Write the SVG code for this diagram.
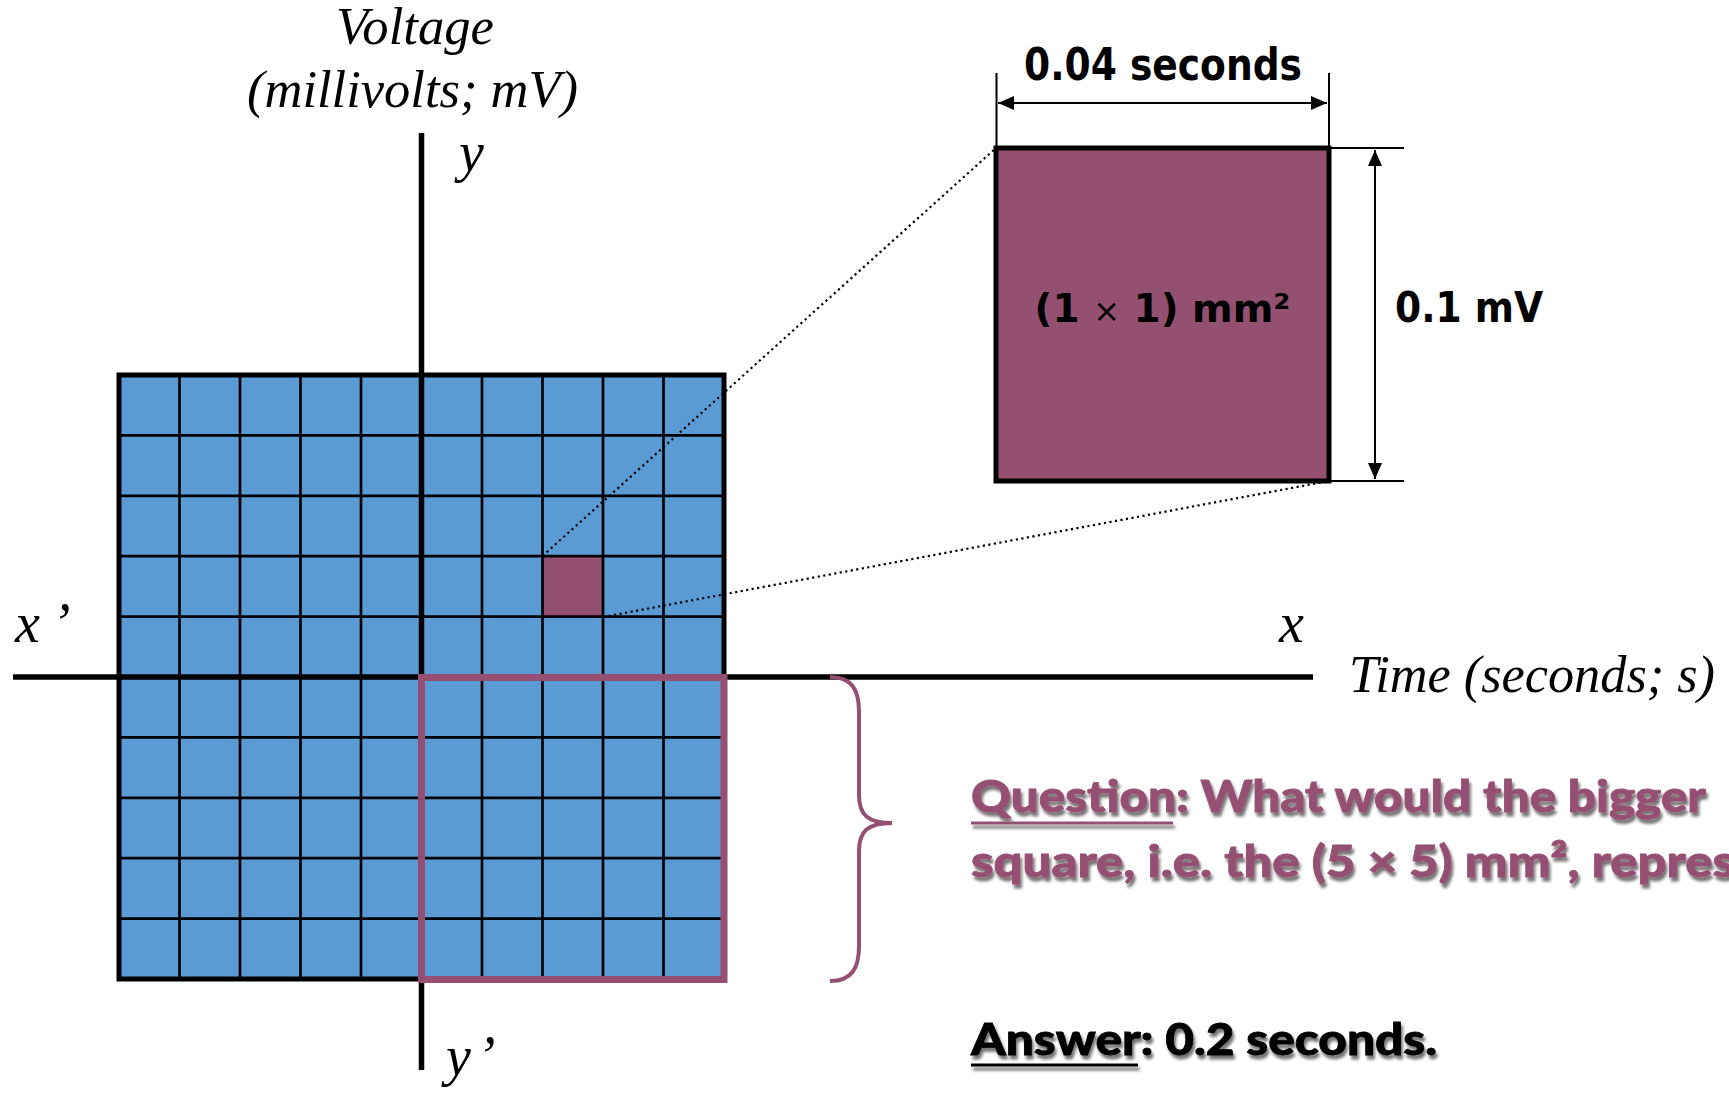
<svg xmlns="http://www.w3.org/2000/svg" width="1729" height="1102" viewBox="0 0 1729 1102">
<style>
.cell{fill:#5B9BD5}
.gl{stroke:#000;stroke-width:2.7}
.axis{stroke:#000;stroke-width:5.5}
.it{font-family:"Liberation Serif","Times New Roman",serif;font-style:italic;fill:#000}
.bd{font-family:"DejaVu Sans",Verdana,sans-serif;font-weight:bold;fill:#000}
.cal{font-family:Lato,"Open Sans",sans-serif;font-weight:900}
.dot{stroke:#000;stroke-width:2.2;stroke-dasharray:2.2 3.4;fill:none}
.dim{stroke:#000;stroke-width:2}
</style>
<defs>
<marker id="ah" viewBox="0 0 16 14" refX="16" refY="7" markerWidth="16" markerHeight="14" markerUnits="userSpaceOnUse" orient="auto-start-reverse">
<path d="M0 0 L16 7 L0 14 Z" fill="#000"/>
</marker>
<filter id="sh" x="-5%" y="-20%" width="110%" height="160%">
<feDropShadow dx="2" dy="4" stdDeviation="1.4" flood-color="#000" flood-opacity="0.55"/>
</filter>
</defs>
<rect width="1729" height="1102" fill="#fff"/>

<g id="grid">
<rect class="cell" x="119" y="375" width="605" height="604"/>
<rect x="542.5" y="556.2" width="60.5" height="60.4" fill="#945071"/>
<g class="gl">
<line x1="179.5" y1="375" x2="179.5" y2="979"/>
<line x1="240" y1="375" x2="240" y2="979"/>
<line x1="300.5" y1="375" x2="300.5" y2="979"/>
<line x1="361" y1="375" x2="361" y2="979"/>
<line x1="482" y1="375" x2="482" y2="979"/>
<line x1="542.5" y1="375" x2="542.5" y2="979"/>
<line x1="603" y1="375" x2="603" y2="979"/>
<line x1="663.5" y1="375" x2="663.5" y2="979"/>
<line x1="119" y1="435.4" x2="724" y2="435.4"/>
<line x1="119" y1="495.8" x2="724" y2="495.8"/>
<line x1="119" y1="556.2" x2="724" y2="556.2"/>
<line x1="119" y1="616.6" x2="724" y2="616.6"/>
<line x1="119" y1="737.4" x2="724" y2="737.4"/>
<line x1="119" y1="797.8" x2="724" y2="797.8"/>
<line x1="119" y1="858.2" x2="724" y2="858.2"/>
<line x1="119" y1="918.6" x2="724" y2="918.6"/>
</g>
<rect x="119" y="375" width="605" height="604" fill="none" stroke="#000" stroke-width="5"/>
</g>

<g id="axes">
<line class="axis" x1="421.5" y1="133" x2="421.5" y2="1070"/>
<line class="axis" x1="13" y1="677" x2="1313" y2="677"/>
</g>

<g id="highlight">
<rect x="421.5" y="677.5" width="302.5" height="302" fill="none" stroke="#954F72" stroke-width="7"/>
</g>

<g id="connectors">
<line class="dot" x1="542.5" y1="556" x2="996" y2="148"/>
<line class="dot" x1="603" y1="617" x2="1329" y2="481"/>
<line class="dim" x1="996.5" y1="73" x2="996.5" y2="148"/>
<line class="dim" x1="1329" y1="73" x2="1329" y2="148"/>
<line class="dim" x1="998" y1="103" x2="1327" y2="103" marker-start="url(#ah)" marker-end="url(#ah)"/>
<line class="dim" x1="1329" y1="148" x2="1404" y2="148"/>
<line class="dim" x1="1329" y1="481" x2="1404" y2="481"/>
<line class="dim" x1="1375" y1="150" x2="1375" y2="479" marker-start="url(#ah)" marker-end="url(#ah)"/>
<path d="M830 677 C852 677 859 690 859 712 L859 795 C859 815 868 823 892 823 C868 823 859 831 859 851 L859 946 C859 968 852 981 830 981" fill="none" stroke="#954F72" stroke-width="4"/>
</g>

<g id="zoombox">
<rect x="996" y="148" width="333" height="333" fill="#945071" stroke="#000" stroke-width="5"/>
<text class="bd" x="1162.5" y="322" font-size="39" text-anchor="middle">(1 <tspan font-weight="normal" font-size="32">×</tspan> 1) mm²</text>
</g>

<g id="labels">
<text class="bd" x="1024" y="80" font-size="44" textLength="278" lengthAdjust="spacingAndGlyphs">0.04 seconds</text>
<text class="bd" x="1395" y="322" font-size="42" textLength="148" lengthAdjust="spacingAndGlyphs">0.1 mV</text>
<text class="it" x="336" y="44" font-size="52" textLength="158" lengthAdjust="spacingAndGlyphs">Voltage</text>
<text class="it" x="247" y="107" font-size="52" textLength="331" lengthAdjust="spacingAndGlyphs">(millivolts; mV)</text>
<text class="it" x="459" y="171" font-size="56">y</text>
<text class="it" x="15" y="642" font-size="56">x<tspan dx="12">’</tspan></text>
<text class="it" x="1279" y="642" font-size="56">x</text>
<text class="it" x="1349" y="692" font-size="52" textLength="366" lengthAdjust="spacingAndGlyphs">Time (seconds; s)</text>
<text class="it" x="446" y="1075" font-size="56">y<tspan dx="6">’</tspan></text>
</g>

<g id="question" filter="url(#sh)">
<text class="cal" x="971" y="812" font-size="44" fill="#954F72" stroke="#954F72" stroke-width="0.8" textLength="735" lengthAdjust="spacingAndGlyphs">Question: What would the bigger</text>
<line x1="971" y1="823" x2="1173" y2="823" stroke="#954F72" stroke-width="3.2"/>
<text class="cal" x="971" y="877" font-size="44" fill="#954F72" stroke="#954F72" stroke-width="0.8" textLength="764" lengthAdjust="spacingAndGlyphs">square, i.e. the (5 × 5) mm², repres</text>
</g>

<g id="answer" filter="url(#sh)">
<text class="cal" x="971" y="1055" font-size="44" fill="#000" stroke="#000" stroke-width="0.8" textLength="466" lengthAdjust="spacingAndGlyphs">Answer: 0.2 seconds.</text>
<line x1="971" y1="1065" x2="1138" y2="1065" stroke="#000" stroke-width="3.2"/>
</g>
</svg>
